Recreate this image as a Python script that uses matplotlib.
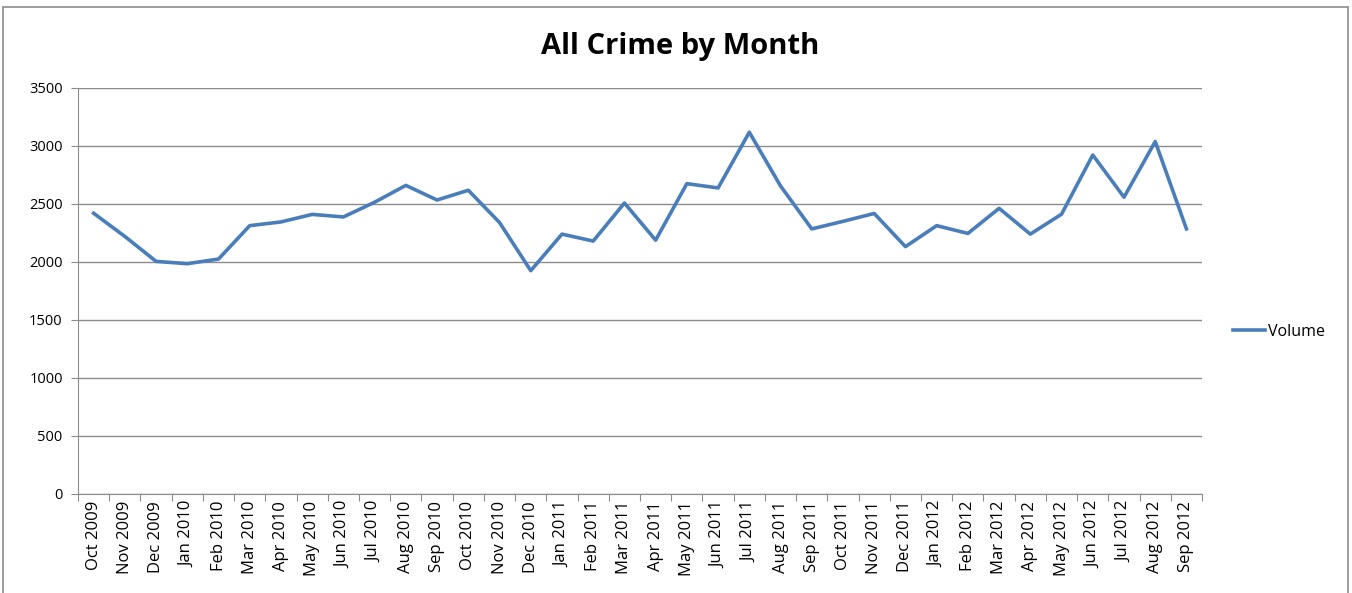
import matplotlib.pyplot as plt
from matplotlib.patches import Rectangle

monate = ["Oct 2009", "Nov 2009", "Dec 2009", "Jan 2010", "Feb 2010", "Mar 2010",
          "Apr 2010", "May 2010", "Jun 2010", "Jul 2010", "Aug 2010", "Sep 2010",
          "Oct 2010", "Nov 2010", "Dec 2010", "Jan 2011", "Feb 2011", "Mar 2011",
          "Apr 2011", "May 2011", "Jun 2011", "Jul 2011", "Aug 2011", "Sep 2011",
          "Oct 2011", "Nov 2011", "Dec 2011", "Jan 2012", "Feb 2012", "Mar 2012",
          "Apr 2012", "May 2012", "Jun 2012", "Jul 2012", "Aug 2012", "Sep 2012"]
volumen = [2420, 2220, 2005, 1985, 2025, 2313, 2345, 2410, 2388, 2515, 2660, 2534,
           2618, 2340, 1925, 2240, 2180, 2508, 2188, 2675, 2638, 3118, 2655, 2285,
           2350, 2418, 2132, 2313, 2246, 2462, 2240, 2412, 2922, 2558, 3038, 2285]
y_ticks = [0, 500, 1000, 1500, 2000, 2500, 3000, 3500]

plt.rcParams['font.family'] = ['Open Sans', 'DejaVu Sans']
gitter = '#8c8c8c'

fig = plt.figure(figsize=(13.52, 5.93), dpi=100)
fig.patches.append(Rectangle((0.002, -0.1), 0.995, 1.088, transform=fig.transFigure,
                             fill=False, edgecolor='#8c8c8c', linewidth=1.2))
ax = fig.add_axes([0.0577, 0.167, 0.8314, 0.6847])

x = list(range(len(monate)))
ax.plot(x, volumen, color='#4a7ebb', linewidth=2.6, label='Volume')

ax.set_xlim(-0.5, len(monate) - 0.5)
ax.set_ylim(0, 3500)
ax.set_yticks(y_ticks)
ax.set_yticklabels([str(v) for v in y_ticks], fontsize=10.5)
ax.yaxis.grid(True, color=gitter, linewidth=1)
ax.set_axisbelow(True)

# Ticks zwischen den Kategorien, Beschriftung mittig
ax.set_xticks([i - 0.5 for i in range(len(monate) + 1)])
ax.set_xticklabels([])
ax.set_xticks(x, minor=True)
ax.set_xticklabels(monate, minor=True, rotation=90, fontsize=12)
ax.tick_params(axis='x', which='minor', length=0, pad=5)
ax.tick_params(axis='x', which='major', length=5, color=gitter)
ax.tick_params(axis='y', length=5, color=gitter, pad=6)

for s in ['top', 'right']:
    ax.spines[s].set_visible(False)
for s in ['left', 'bottom']:
    ax.spines[s].set_color(gitter)

fig.text(0.503, 0.922, "All Crime by Month", ha='center', va='center',
         fontsize=21, fontweight='bold')
ax.legend(loc='center left', bbox_to_anchor=(1.015, 0.40), frameon=False,
          fontsize=11.5, handlelength=2.0, handletextpad=0.2)

plt.savefig("out.png", dpi=100)
